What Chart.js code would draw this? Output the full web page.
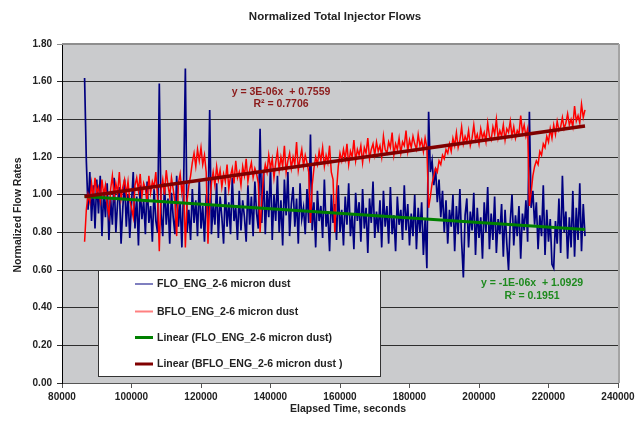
<!DOCTYPE html>
<html>
<head>
<meta charset="utf-8">
<script src="https://cdn.jsdelivr.net/npm/chart.js@4/dist/chart.umd.min.js"></script>
<style>
    html, body { margin: 0; padding: 0; background: #fff; }
    #wrap { width: 644px; height: 427px; position: relative; }
</style>
</head>
<body>
<div id="wrap"><canvas id="flowChart"></canvas></div>
<script>
// Sampling clock of the logged flows (seconds)
const T0 = 86500;
const DT = 500;

// FLO_ENG_2-6 micron dust
const floValues = [
    1.62, 1.18, 0.92, 1.12, 0.86, 1.05, 0.82, 1.08, 0.90, 1.10,
    0.78, 1.02, 0.88, 1.06, 0.76, 0.98, 0.84, 1.09, 0.80, 0.96,
    1.04, 0.74, 0.93, 1.08, 0.83, 1.00, 0.77, 0.95, 1.12, 0.82,
    0.99, 0.73, 1.05, 0.87, 0.97, 0.79, 1.07, 0.85, 0.94, 0.75,
    1.03, 0.86, 0.80, 1.59, 0.90, 0.78, 1.06, 0.84, 0.98, 0.74,
    1.01, 0.88, 0.79, 1.10, 0.83, 0.96, 0.72, 1.04, 1.67, 0.80,
    0.92, 0.76, 1.03, 0.85, 0.97, 0.78, 1.08, 0.82, 0.94, 0.75,
    1.00, 0.86, 1.45, 0.79, 0.95, 0.84, 1.06, 0.77, 0.99, 0.88,
    0.74, 1.04, 0.83, 0.96, 0.79, 1.09, 0.86, 0.93, 0.76, 1.02,
    0.81, 0.97, 0.88, 0.75, 1.05, 0.84, 0.99, 0.78, 1.07, 0.90,
    0.82, 1.35, 0.85, 1.13, 0.79, 1.02, 0.88, 1.15, 0.76, 1.00,
    0.86, 1.10, 0.80, 0.97, 0.73, 1.08, 0.89, 1.12, 0.78, 0.95,
    1.04, 0.83, 0.98, 0.74, 1.06, 0.87, 0.93, 0.79, 1.03, 0.85,
    1.32, 0.81, 0.96, 0.72, 1.02, 0.86, 0.94, 0.77, 1.08, 0.83,
    0.91, 0.70, 1.00, 0.85, 0.95, 0.76, 1.05, 0.80, 0.92, 0.73,
    0.99, 0.84, 1.06, 0.78, 0.90, 0.71, 1.01, 0.86, 0.96, 0.75,
    1.03, 0.82, 0.93, 0.69, 0.98, 0.85, 1.07, 0.77, 0.91, 0.80,
    0.97, 0.72, 1.02, 0.83, 0.94, 0.74, 1.04, 0.79, 0.89, 0.70,
    0.99, 0.84, 0.92, 0.76, 1.05, 0.81, 0.95, 0.73, 0.90, 0.78,
    1.00, 0.71, 0.93, 0.80, 0.96, 0.68, 0.87, 0.61, 1.44, 1.12,
    1.18, 1.05, 1.14, 0.96, 1.08, 0.88, 1.02, 0.80, 0.97, 0.74,
    0.92, 0.83, 1.00, 0.70, 0.94, 0.79, 1.03, 0.75, 0.56, 0.89,
    0.98, 0.72, 0.91, 0.81, 1.01, 0.68, 0.93, 0.77, 0.88, 0.66,
    0.96, 0.80, 1.04, 0.71, 0.90, 0.76, 0.99, 0.69, 0.87, 0.79,
    0.95, 0.67, 0.92, 0.74, 0.60, 0.86, 1.00, 0.73, 0.89, 0.78,
    0.94, 0.66, 0.90, 0.81, 0.97, 0.75, 1.44, 0.93, 1.02, 0.84,
    0.96, 0.71, 0.89, 0.78, 1.05, 0.68, 0.92, 0.75, 0.87, 0.63,
    0.61, 0.86, 0.74, 0.98, 0.69, 1.10, 0.80, 0.91, 0.66, 0.88,
    0.72, 1.02, 0.67, 0.93, 0.76, 1.06, 0.70, 0.95, 0.78
];

// BFLO_ENG_2-6 micron dust
const bfloValues = [
    0.75, 0.92, 1.00, 0.96, 1.06, 0.98, 1.09, 1.01, 1.04, 0.97,
    1.08, 1.00, 1.05, 0.95, 0.89, 1.03, 1.10, 0.99, 1.06, 1.01,
    1.12, 0.98, 1.04, 1.08, 1.00, 1.07, 0.97, 0.93, 0.88, 1.05,
    1.09, 1.02, 1.11, 0.99, 1.06, 1.03, 0.96, 1.10, 1.01, 1.07,
    1.04, 1.12, 0.98, 0.70, 1.02, 1.08, 1.00, 1.13, 1.05, 0.99,
    1.09, 1.03, 0.96, 0.78, 1.06, 1.11, 1.01, 1.07, 0.72, 0.97,
    1.05, 1.10, 1.17, 1.22, 1.15, 1.24, 1.18, 1.25, 1.16, 1.21,
    1.12, 0.74, 0.95, 1.06, 1.12, 1.05, 1.15, 1.08, 1.13, 1.04,
    1.11, 1.07, 1.16, 1.03, 1.10, 1.14, 1.06, 1.18, 1.09, 1.12,
    1.05, 1.15, 1.10, 1.19, 1.07, 1.13, 1.17, 1.09, 1.14, 1.11,
    1.06, 0.80, 0.98, 1.10, 1.16, 1.12, 1.21, 1.14, 1.19, 1.09,
    1.17, 1.23, 1.13, 1.20, 1.15, 1.26, 1.12, 1.18, 1.22, 1.14,
    1.20, 1.16, 1.28, 1.13, 1.19, 1.24, 1.15, 1.21, 1.17, 1.12,
    0.85, 1.05, 1.14, 1.20, 1.16, 1.23, 1.18, 1.25, 1.15, 1.21,
    1.17, 1.26, 1.12, 1.08, 0.80, 1.02, 1.15, 1.22, 1.18, 1.24,
    1.19, 1.27, 1.16, 1.23, 1.20, 1.29, 1.18, 1.24, 1.21, 1.26,
    1.17, 1.25, 1.22, 1.30, 1.19, 1.24, 1.27, 1.21, 1.28, 1.23,
    1.26, 1.20, 1.31, 1.24, 1.22, 1.28, 1.25, 1.33, 1.21, 1.27,
    1.24, 1.30, 1.22, 1.28, 1.26, 1.34, 1.23, 1.29, 1.25, 1.31,
    1.27, 1.24, 1.32, 1.26, 1.29, 1.23, 1.30, 1.25, 0.93, 0.99,
    1.06, 1.10, 1.14, 1.12, 1.18, 1.16, 1.21, 1.19, 1.24, 1.22,
    1.27, 1.23, 1.30, 1.26, 1.33, 1.25, 1.29, 1.36, 1.27, 1.31,
    1.28, 1.34, 1.26, 1.30, 1.37, 1.29, 1.32, 1.27, 1.35, 1.30,
    1.33, 1.28, 1.38, 1.31, 1.29, 1.36, 1.32, 1.40, 1.30, 1.34,
    1.31, 1.37, 1.29, 1.35, 1.33, 1.39, 1.31, 1.36, 1.30, 1.34,
    1.32, 1.42, 1.33, 1.37, 1.31, 1.35, 0.94, 1.01, 1.10, 1.15,
    1.18, 1.16, 1.23, 1.21, 1.27, 1.25, 1.31, 1.28, 1.35, 1.30,
    1.37, 1.32, 1.39, 1.34, 1.36, 1.41, 1.35, 1.38, 1.43, 1.37,
    1.40, 1.36, 1.47, 1.39, 1.42, 1.38, 1.48, 1.41, 1.45
];

// Linear trend lines (end points)
const trendTimes = [86500, 230500];
const floTrend = [0.99, 0.815];
const bfloTrend = [0.99, 1.365];

const floEquation = ['y = -1E-06x  + 1.0929', 'R\u00b2 = 0.1951'];
const bfloEquation = ['y = 3E-06x  + 0.7559', 'R\u00b2 = 0.7706'];

const CHART_TITLE = 'Normalized Total Injector Flows';
const X_TITLE = 'Elapsed Time, seconds';
const Y_TITLE = 'Normalized Flow Rates';

const FONT = '"Liberation Sans", Arial, sans-serif';
const TEXT_COLOR = '#222';

function toPoints(values) {
    return values.map((v, i) => ({ x: T0 + i * DT, y: v }));
}
function trendPoints(values) {
    return values.map((v, i) => ({ x: trendTimes[i], y: v }));
}

// Draws plot background, titles, equations and the boxed legend
const excelLook = {
    id: 'excelLook',
    beforeDraw(chart) {
        const { ctx, chartArea: a } = chart;
        ctx.save();
        ctx.fillStyle = '#cacbcd';
        ctx.fillRect(a.left, a.top, a.right - a.left, a.bottom - a.top);
        ctx.restore();
    },
    afterDraw(chart) {
        const { ctx, chartArea: a } = chart;
        ctx.save();
        // plot frame (top and right)
        ctx.strokeStyle = '#8e8e8e';
        ctx.lineWidth = 2;
        ctx.beginPath();
        ctx.moveTo(a.left, a.top);
        ctx.lineTo(a.right + 1, a.top);
        ctx.stroke();
        ctx.strokeStyle = '#a4a4a4';
        ctx.beginPath();
        ctx.moveTo(a.right + 1, a.top);
        ctx.lineTo(a.right + 1, a.bottom);
        ctx.stroke();

        ctx.fillStyle = TEXT_COLOR;
        ctx.textAlign = 'center';
        ctx.textBaseline = 'middle';
        ctx.font = 'bold 11.5px ' + FONT;
        ctx.fillText(CHART_TITLE, 335, 17);
        ctx.font = 'bold 10.5px ' + FONT;
        ctx.fillText(X_TITLE, 348, 409);
        ctx.save();
        ctx.translate(18, 215);
        ctx.rotate(-Math.PI / 2);
        ctx.fillText(Y_TITLE, 0, 0);
        ctx.restore();

        // trend equations
        ctx.font = 'bold 10.5px ' + FONT;
        ctx.fillStyle = '#8b1a1a';
        ctx.fillText(bfloEquation[0], 281, 92);
        ctx.fillText(bfloEquation[1], 281, 104);
        ctx.fillStyle = '#1e8a1e';
        ctx.fillText(floEquation[0], 532, 283);
        ctx.fillText(floEquation[1], 532, 296);

        // legend box
        const lx = 98, ly = 270, lw = 282, lh = 106;
        ctx.fillStyle = '#fff';
        ctx.fillRect(lx, ly, lw, lh);
        ctx.strokeStyle = '#333';
        ctx.lineWidth = 1;
        ctx.strokeRect(lx + 0.5, ly + 0.5, lw, lh);
        const rows = [284, 311.5, 337.5, 364];
        ctx.textAlign = 'left';
        ctx.font = 'bold 10.5px ' + FONT;
        chart.data.datasets.forEach((ds, i) => {
            const y = rows[i];
            ctx.strokeStyle = ds.legendColor || ds.borderColor;
            ctx.lineWidth = ds.legendWidth;
            ctx.beginPath();
            ctx.moveTo(135, y);
            ctx.lineTo(153, y);
            ctx.stroke();
            ctx.fillStyle = TEXT_COLOR;
            ctx.fillText(ds.label, 157, y + 0.5);
        });
        ctx.restore();
    }
};

const ctx = document.getElementById('flowChart');
new Chart(ctx, {
    type: 'line',
    data: {
        datasets: [
            {
                label: 'FLO_ENG_2-6 micron dust',
                data: toPoints(floValues),
                borderColor: '#000080',
                legendColor: '#7f7fbf',
                legendWidth: 2,
                borderWidth: 1.7,
                order: 4
            },
            {
                label: 'BFLO_ENG_2-6 micron dust',
                data: toPoints(bfloValues),
                borderColor: '#ff0000',
                legendColor: '#ff8080',
                legendWidth: 2,
                borderWidth: 1.5,
                order: 3
            },
            {
                label: 'Linear (FLO_ENG_2-6 micron dust)',
                data: trendPoints(floTrend),
                borderColor: '#008000',
                legendWidth: 3,
                borderWidth: 3,
                order: 2
            },
            {
                label: 'Linear (BFLO_ENG_2-6 micron dust )',
                data: trendPoints(bfloTrend),
                borderColor: '#800000',
                legendWidth: 3,
                borderWidth: 3.5,
                order: 1
            }
        ]
    },
    options: {
        responsive: true,
        maintainAspectRatio: false,
        animation: false,
        layout: { padding: { left: 0, right: 26, top: 44, bottom: 0 } },
        elements: {
            point: { radius: 0 },
            line: { tension: 0, fill: false }
        },
        scales: {
            x: {
                type: 'linear',
                min: 80000,
                max: 240000,
                afterFit: s => { s.height = 44; },
                border: { color: '#555', width: 1 },
                grid: {
                    drawOnChartArea: false,
                    drawTicks: true,
                    tickLength: 5,
                    color: '#555'
                },
                ticks: {
                    stepSize: 20000,
                    padding: 3,
                    color: TEXT_COLOR,
                    font: { family: FONT, size: 10, weight: 'bold' },
                    callback: v => String(v)
                }
            },
            y: {
                min: 0,
                max: 1.8,
                afterFit: s => { s.width = 62; },
                border: { color: '#000', width: 1 },
                grid: {
                    drawTicks: true,
                    tickLength: 5,
                    color: ctx => ctx.tick && ctx.tick.value >= 1.79 ? '#8e8e8e' : '#2e2e2e',
                    lineWidth: 1
                },
                ticks: {
                    stepSize: 0.2,
                    padding: 5,
                    color: TEXT_COLOR,
                    font: { family: FONT, size: 10, weight: 'bold' },
                    callback: v => Number(v).toFixed(2)
                }
            }
        },
        plugins: {
            legend: { display: false },
            title: { display: false },
            tooltip: { enabled: false }
        }
    },
    plugins: [excelLook]
});
</script>
</body>
</html>
